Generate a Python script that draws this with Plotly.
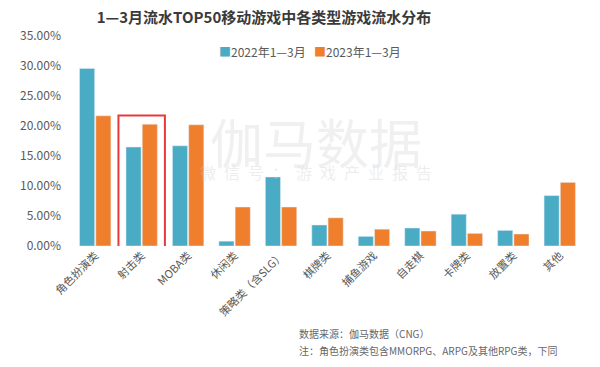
import plotly.graph_objects as go

categories = ["角色扮演类", "射击类", "MOBA类", "休闲类", "策略类（含SLG）", "棋牌类",
              "捕鱼游戏", "自走棋", "卡牌类", "放置类", "其他"]
share_2022 = [0.296, 0.165, 0.167, 0.008, 0.115, 0.035, 0.016, 0.030, 0.053, 0.026, 0.084]
share_2023 = [0.217, 0.203, 0.202, 0.065, 0.065, 0.047, 0.028, 0.025, 0.021, 0.020, 0.106]
series_names = ["2022年1—3月", "2023年1—3月"]
y_ticks = [0, 0.05, 0.10, 0.15, 0.20, 0.25, 0.30, 0.35]

FONT = "Noto Sans CJK SC"
BLUE = "#4aabc4"
ORANGE = "#ef7f2d"
COLORS = [BLUE, ORANGE]
W, H = 600, 367
ML, MR, MT, MB = 72, 17, 36, 121
PW, PH = W - ML - MR, H - MT - MB


def px_x(x):
    return (x - ML) / PW


def px_y(y):
    return (H - MB - y) / PH


fig = go.Figure()
fig.add_trace(go.Bar(x=categories, y=share_2022, name=series_names[0], marker_color=BLUE))
fig.add_trace(go.Bar(x=categories, y=share_2023, name=series_names[1], marker_color=ORANGE))

fig.update_layout(
    width=W, height=H,
    margin=dict(l=ML, r=MR, t=MT, b=MB),
    paper_bgcolor="white", plot_bgcolor="white",
    font=dict(family=FONT, color="#595959", size=11),
    barmode="group", bargap=0.3, bargroupgap=0.07,
    title=dict(text="<b>1—3月流水TOP50移动游戏中各类型游戏流水分布</b>",
               x=264 / W, xref="container", xanchor="center", y=1 - 18 / H, yanchor="middle",
               font=dict(size=15, color="#3a3a3a", family=FONT)),
    showlegend=False,
)
fig.update_xaxes(showline=False, showgrid=False, tickangle=-45, ticks="",
                 tickfont=dict(size=11, color="#595959"), range=[-0.5, 10.5])
fig.update_yaxes(range=[0, 0.35], tickvals=y_ticks, tickformat=".2%", showgrid=False,
                 showline=False, zeroline=False, ticks="", ticklabelstandoff=10,
                 tickfont=dict(size=12, color="#595959"))

# legend (square marker + series name)
legend_x = [217, 312]
for name, color, lx in zip(series_names, COLORS, legend_x):
    fig.add_annotation(text=f"<span style='color:{color}'>■</span>{name}",
                       x=px_x(lx), y=px_y(52), xref="paper", yref="paper", showarrow=False,
                       xanchor="left", yanchor="middle",
                       font=dict(size=12, color="#595959", family=FONT))

# watermark
fig.add_annotation(text="伽马数据", x=px_x(316), y=px_y(141), xref="paper", yref="paper",
                   showarrow=False, font=dict(size=53, color="rgba(200,200,200,0.28)", family=FONT))
fig.add_annotation(text="微\u2002信\u2002号\u2002：\u2002游\u2002戏\u2002产\u2002业\u2002报\u2002告",
                   x=px_x(316), y=px_y(186), xref="paper", yref="paper",
                   showarrow=False, font=dict(size=16, color="rgba(200,200,200,0.32)", family=FONT))

# highlight box around 射击类
fig.add_shape(type="rect", xref="x", yref="y", x0=0.5, x1=1.5, y0=-0.0165, y1=0.2175,
              line=dict(color="#e8383d", width=2), fillcolor="rgba(0,0,0,0)")

# footnotes
fig.add_annotation(text="数据来源：伽马数据（CNG）", x=px_x(297), y=px_y(333), xref="paper", yref="paper",
                   showarrow=False, xanchor="left", yanchor="middle",
                   font=dict(size=10, color="#666666"))
fig.add_annotation(text="注：角色扮演类包含MMORPG、ARPG及其他RPG类，下同", x=px_x(297), y=px_y(350),
                   xref="paper", yref="paper", showarrow=False, xanchor="left", yanchor="middle",
                   font=dict(size=10, color="#666666"))

fig.write_html("out.html", config={"displayModeBar": False},
               post_script="document.body.style.margin='0';")
